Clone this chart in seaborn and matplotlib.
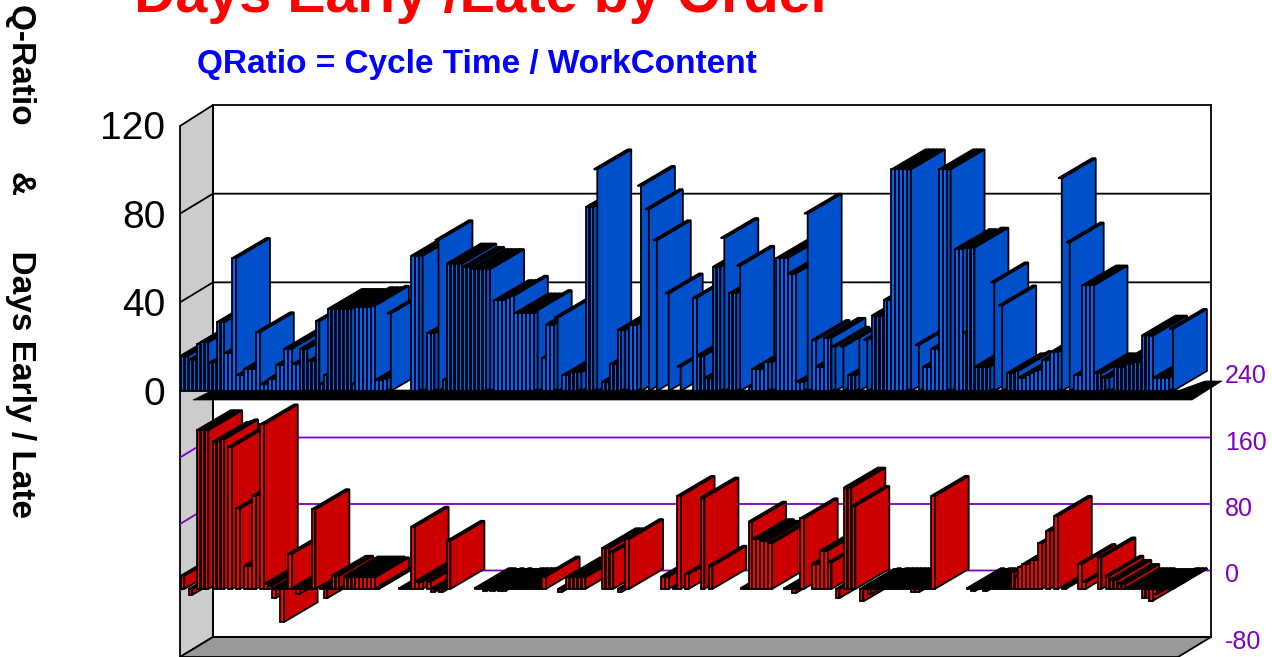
import numpy as np
import pandas as pd
import matplotlib
matplotlib.use("Agg")
import matplotlib.pyplot as plt
from matplotlib.patches import Polygon
from matplotlib.transforms import ScaledTranslation
import seaborn as sns

qratio = [
 16,16,14,14,21,22,22,12.6,13,31,
 31,17,17,60,7,7,10,10,10,26.5,
 3,3,5.4,5.4,11.7,11.7,19,19,12,12,
 19,19,13.5,13.5,31.5,3,7,37,37,37,
 37,37,37,3,37.8,37.8,37.8,37.8,38.5,5,
 5,5.5,35,0,0,0,0,0,61,61,
 61,0,26,26,68,0,5,57.5,57.5,57.5,
 57.5,56,56,55,55,55,55,55,0,41,
 41,41,42,43,35,35,35,35,35,36.5,
 0,15,30,30,33,0,7,7,8.5,8.5,
 8.5,0,83,83,100,0,4,4,12,12,
 27.5,27.5,0,30,30,92.5,0,82,0,68,
 0,0,44,0,0,11,0,0,0,42,
 16,16,6,6,56,56,69,0,44,44,
 56.5,0,0,2,10,10,10,13,13,0,
 60,60,60,53,53,4,4,80,0,23,
 11,11,24,24,20,0,20,0,7,7,
 24,0,23,0,34,34,34,41,41,100,
 100,100,100,100,0,20.7,0,11,11,19,
 19,100,100,100,0,64,64,26,64.7,64.7,
 11,11,11,11,49,0,38.6,0,8,8,
 9,6,6,7,8,9,9.5,14,14,17.5,
 17.5,96,0,67,0,7,7,47.6,47.6,47.6,
 8,8,6,6,0,11,11,11,12,12,
 13,13,25,25,25,6,6,6,6,28,
]
days_early_late = [
 16,0,-7,0,191,191,191,0,177,178,
 180,0,171,0,97,0,28,28,112,0,
 198,6,4,-11,1,-40,1,42,1,-6,
 1,1,1,96,0,1,-11,1,16,16,
 1,15,15,15,15,15,15,15,14,1,
 0,0,0,0,0,1,1,1,75,9,
 9,0,9,-4,1,-4,1,58,0,0,
 0,0,0,0,1,1,-3,1,-3,1,
 -3,-2,1,1,1,1,1,1,1,1,
 1,15,0,0,0,-4,1,14,14,14,
 14,14,0,0,0,0,49,49,44,0,
 -4,0,60,0,0,0,0,0,0,0,
 0,15,15,0,1,112,0,18,0,0,
 0,110,0,28,0,0,0,0,0,0,
 0,1,1,81,60,60,58,58,55,0,
 0,0,1,1,-5,1,85,0,0,30,
 30,46,46,32,0,-11,0,122,122,100,
 0,-15,1,-6,1,1,1,1,1,1,
 1,1,1,1,-4,-4,1,1,1,112,
 0,0,0,0,0,0,0,0,1,-3,
 1,1,-3,1,1,1,1,1,1,20,
 15,26,30,30,35,35,55,0,70,0,
 88,0,1,0,0,0,30,8,0,0,
 0,38,0,16,11,11,6,6,1,1,
 1,1,-11,-11,-14,-6,-3,1,1,1,
]
order = list(range(len(qratio)))
q_ticks = [0, 40, 80, 120]
q_grid = [40, 80]
d_ticks = [-80, 0, 80, 160, 240]
d_grid = [0, 80, 160]

W, H = 1272, 657
sns.set_theme(style="white")
plt.rcParams["font.family"] = ["Liberation Sans", "DejaVu Sans"]
plt.rcParams["axes.unicode_minus"] = False
fig = plt.figure(figsize=(W/100, H/100), dpi=100, facecolor="white")

def rect(l, t, r, b):
    return [l/W, 1-b/H, (r-l)/W, (b-t)/H]
def figpts(pts):
    return [(x/W, 1-y/H) for x, y in pts]

PITCH = 3.97
DEPTH_X, DEPTH_Y = 34.0, 20.0
WALL_X = 33.0
BAR_W = 0.9
EDGE = 1.3
PURPLE = "#7F00BF"
RED_LIFT = 1.5

ax_wall = fig.add_axes(rect(213, 105, 1211, 637), zorder=1)
ax_red = fig.add_axes(rect(180, 125-RED_LIFT, 1178, 657-RED_LIFT), zorder=2)
ax_blue = fig.add_axes(rect(180, 125, 1178, 657), zorder=3)

xlim = ((180-182.6)/PITCH, (1178-182.6)/PITCH)

ax_wall.set_xlim(0, 1)
ax_wall.set_ylim(-80, 560)
ax_wall.set_xticks([])
ax_wall.set_yticks(d_ticks)
ax_wall.yaxis.tick_right()
ax_wall.tick_params(axis="y", length=0, pad=10, labelsize=18, labelcolor=PURPLE)
for lab in ax_wall.get_yticklabels():
    lab.set_transform(lab.get_transform() + ScaledTranslation(0, -1.8/72, fig.dpi_scale_trans))
for s in ax_wall.spines.values():
    s.set_color("black"); s.set_linewidth(EDGE); s.set_visible(True)
ax_wall.add_patch(Polygon(figpts([(180,126),(213,105),(213,637),(180,657)]), closed=True,
                          transform=fig.transFigure, fc="#CCCCCC", ec="black", lw=EDGE, clip_on=False))
ax_wall.add_patch(Polygon(figpts([(180,657),(213,637),(1211,637),(1178,657)]), closed=True,
                          transform=fig.transFigure, fc="#999999", ec="black", lw=EDGE, clip_on=False))

def draw_series(ax, vals, front, side, ylim, per_px):
    df = pd.DataFrame({"order": order, "value": vals})
    sns.barplot(data=df, x="order", y="value", native_scale=True, width=BAR_W, color=front,
                saturation=1, edgecolor="black", linewidth=EDGE, errorbar=None, ax=ax)
    ax.set_xlim(*xlim); ax.set_ylim(*ylim)
    ax.set_xlabel(""); ax.set_ylabel(""); ax.set_xticks([])
    ax.patch.set_alpha(0)
    for s in ax.spines.values():
        s.set_visible(False)
    dx, dy = DEPTH_X/PITCH, DEPTH_Y/per_px
    for i, (bar, v) in enumerate(zip(ax.patches, vals)):
        bar.set_clip_on(False)
        if v == 0:
            bar.set_visible(False)
            continue
        bar.set_zorder(10 + 3*i + 2)
        l, r = i - BAR_W/2, i + BAR_W/2
        lo, hi = min(v, 0), max(v, 0)
        ax.add_patch(Polygon([(r, lo), (r, hi), (r+dx, hi+dy), (r+dx, lo+dy)], closed=True,
                             fc=side, ec="black", lw=EDGE, zorder=10+3*i, clip_on=False))
        ax.add_patch(Polygon([(l, hi), (r, hi), (r+dx, hi+dy), (l+dx, hi+dy)], closed=True,
                             fc="black", ec="black", lw=EDGE, zorder=10+3*i+1, clip_on=False))
    return dy

def wall_lines(ax, levels, dy, color, shift=0.0):
    wx = WALL_X/PITCH
    for g in levels:
        y = g + shift
        ax.plot([xlim[0], xlim[0]+wx, xlim[1]+wx], [y, y+dy, y+dy], color=color, lw=EDGE,
                zorder=2, clip_on=False, solid_capstyle="butt")

dy_red = draw_series(ax_red, days_early_late, "#FF0000", "#CC0000", (-80, 560), 0.831)
wall_lines(ax_red, d_grid, dy_red, PURPLE, shift=-RED_LIFT/0.831)
ax_red.set_yticks([])

ax_blue.add_patch(Polygon(figpts([(193,400),(213,390),(1180,390),(1205,381),(1222,381),(1192,400)]), closed=True,
                          transform=fig.transFigure, fc="black", ec="black", lw=0.5, zorder=3, clip_on=False))
dy_blue = draw_series(ax_blue, qratio, "#0066FF", "#0050CC", (-120, 120), 2.217)
wall_lines(ax_blue, q_grid, dy_blue, "black")
ax_blue.set_yticks(q_ticks)
ax_blue.tick_params(axis="y", length=0, pad=10.5, labelsize=28, labelcolor="black")

fig.text(134/W, 1-12/H, "Days Early /Late by Order", color="#FF0000", fontsize=41.3, fontweight="bold",
         ha="left", va="baseline")
fig.text(197/W, 1-64/H, "QRatio = Cycle Time / WorkContent", color="#0000FF", fontsize=24, fontweight="bold",
         ha="left", va="center")
fig.text(20/W, 1-4/H, "Q-Ratio     &      Days Early / Late", color="black", fontsize=24, fontweight="bold",
         rotation=270, ha="center", va="top")

fig.savefig("out.png", dpi=100, facecolor="white")
